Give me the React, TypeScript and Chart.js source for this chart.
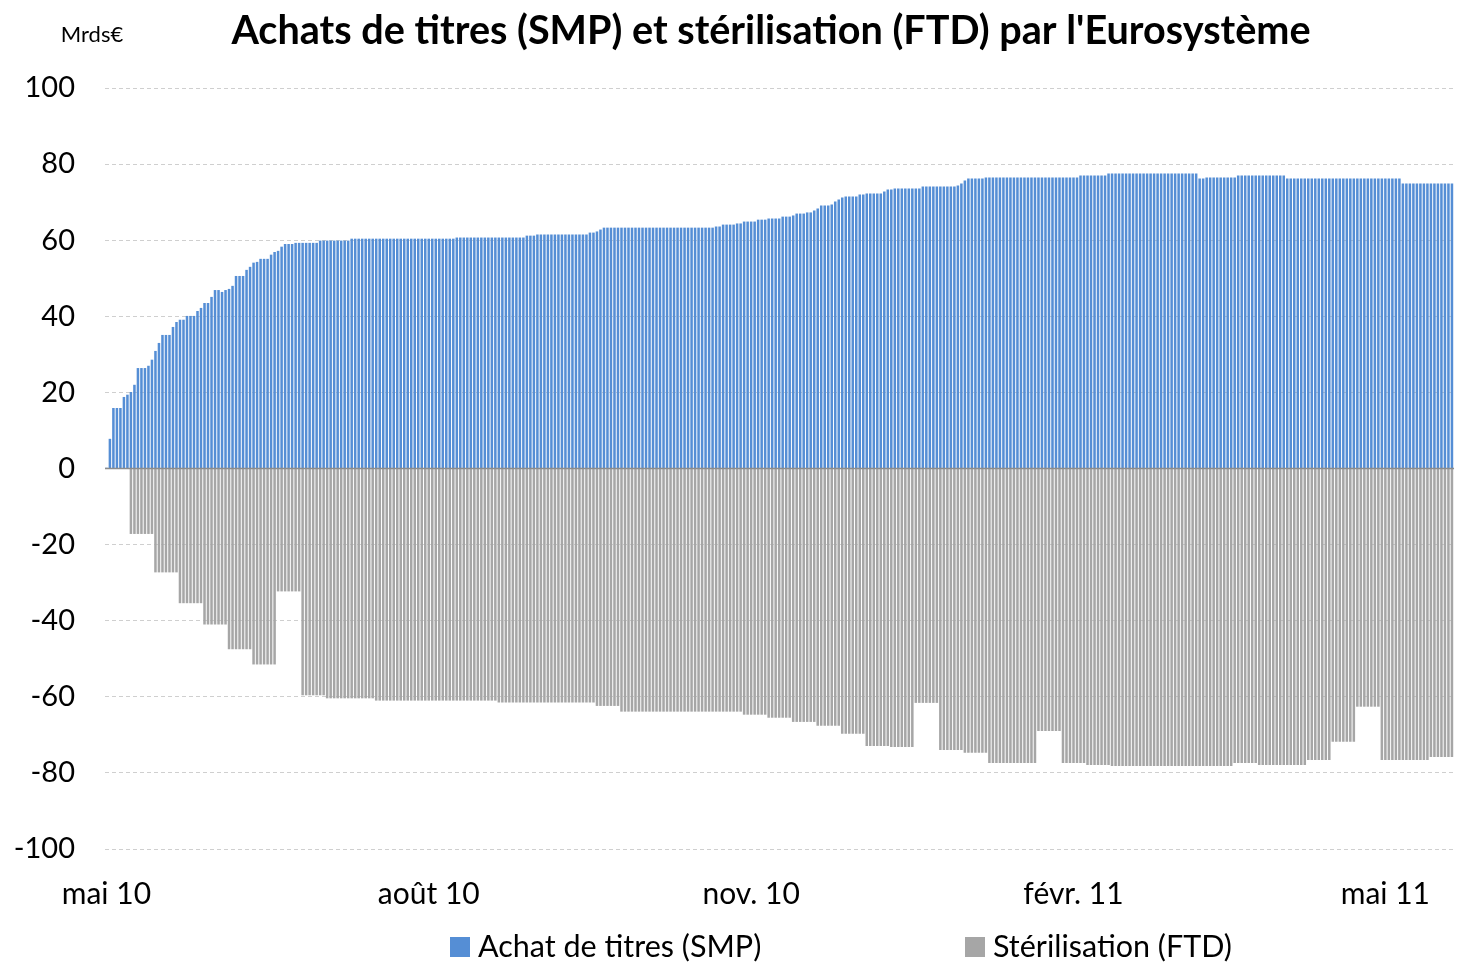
import React, { useEffect, useRef } from "react";
import { Chart, registerables } from "chart.js";

Chart.register(...registerables);

const TITLE = "Achats de titres (SMP) et stérilisation (FTD) par l'Eurosystème";
const UNIT = "Mrds€";
const SERIES_NAMES = ["Achat de titres (SMP)", "Stérilisation (FTD)"];
const SERIES_COLORS = ["#558ED5", "#A6A6A6"];

// x positions: day offsets from 10 May 2010
const X_TICK_DAYS = [0, 92, 184, 276, 365];
const X_TICK_LABELS = ["mai 10", "août 10", "nov. 10", "févr. 11", "mai 11"];
const Y_MIN = -100;
const Y_MAX = 100;
const Y_STEP = 20;

// Daily SMP holdings (Mrds€), one row per week starting Monday 10 May 2010
const SMP = [
  0.2, 7.8, 15.9, 15.9, 15.9, 18.8, 19.4,
  20.1, 22.0, 26.4, 26.4, 26.4, 27.0, 28.6,
  30.9, 33.0, 35.1, 35.1, 35.1, 37.2, 38.5,
  39.1, 39.1, 40.1, 40.1, 40.1, 41.4, 42.2,
  43.5, 43.5, 45.1, 46.9, 46.9, 46.4, 46.9,
  47.2, 48.0, 50.6, 50.6, 50.6, 52.2, 53.0,
  54.1, 54.3, 55.1, 55.1, 55.1, 56.2, 56.9,
  57.2, 58.3, 59.0, 59.0, 59.0, 59.3, 59.3,
  59.3, 59.3, 59.3, 59.3, 59.3, 59.9, 59.9,
  59.9, 59.9, 59.9, 59.9, 59.9, 59.9, 59.9,
  60.4, 60.4, 60.4, 60.4, 60.4, 60.4, 60.4,
  60.4, 60.4, 60.4, 60.4, 60.4, 60.4, 60.4,
  60.4, 60.4, 60.4, 60.4, 60.4, 60.4, 60.4,
  60.4, 60.4, 60.4, 60.4, 60.4, 60.4, 60.4,
  60.4, 60.4, 60.7, 60.7, 60.7, 60.7, 60.7,
  60.7, 60.7, 60.7, 60.7, 60.7, 60.7, 60.7,
  60.7, 60.7, 60.7, 60.7, 60.7, 60.7, 60.7,
  60.7, 61.2, 61.2, 61.2, 61.5, 61.5, 61.5,
  61.5, 61.5, 61.5, 61.5, 61.5, 61.5, 61.5,
  61.5, 61.5, 61.5, 61.5, 61.5, 62.0, 62.0,
  62.3, 62.8, 63.3, 63.3, 63.3, 63.3, 63.3,
  63.3, 63.3, 63.3, 63.3, 63.3, 63.3, 63.3,
  63.3, 63.3, 63.3, 63.3, 63.3, 63.3, 63.3,
  63.3, 63.3, 63.3, 63.3, 63.3, 63.3, 63.3,
  63.3, 63.3, 63.3, 63.3, 63.3, 63.3, 63.6,
  63.6, 64.1, 64.1, 64.1, 64.1, 64.4, 64.4,
  64.9, 64.9, 64.9, 64.9, 65.4, 65.4, 65.4,
  65.7, 65.7, 65.7, 65.7, 66.2, 66.2, 66.2,
  66.5, 67.0, 67.0, 67.0, 67.3, 67.3, 67.8,
  68.3, 69.1, 69.1, 69.1, 69.4, 70.2, 70.7,
  71.2, 71.5, 71.5, 71.5, 71.5, 72.0, 72.0,
  72.3, 72.3, 72.3, 72.3, 72.3, 72.8, 73.3,
  73.3, 73.6, 73.6, 73.6, 73.6, 73.6, 73.6,
  73.6, 73.6, 74.1, 74.1, 74.1, 74.1, 74.1,
  74.1, 74.1, 74.1, 74.1, 74.1, 74.4, 74.9,
  75.7, 76.2, 76.2, 76.2, 76.2, 76.2, 76.5,
  76.5, 76.5, 76.5, 76.5, 76.5, 76.5, 76.5,
  76.5, 76.5, 76.5, 76.5, 76.5, 76.5, 76.5,
  76.5, 76.5, 76.5, 76.5, 76.5, 76.5, 76.5,
  76.5, 76.5, 76.5, 76.5, 76.5, 77.0, 77.0,
  77.0, 77.0, 77.0, 77.0, 77.0, 77.0, 77.5,
  77.5, 77.5, 77.5, 77.5, 77.5, 77.5, 77.5,
  77.5, 77.5, 77.5, 77.5, 77.5, 77.5, 77.5,
  77.5, 77.5, 77.5, 77.5, 77.5, 77.5, 77.5,
  77.5, 77.5, 77.5, 77.5, 76.2, 76.2, 76.5,
  76.5, 76.5, 76.5, 76.5, 76.5, 76.5, 76.5,
  76.5, 77.0, 77.0, 77.0, 77.0, 77.0, 77.0,
  77.0, 77.0, 77.0, 77.0, 77.0, 77.0, 77.0,
  77.0, 76.2, 76.2, 76.2, 76.2, 76.2, 76.2,
  76.2, 76.2, 76.2, 76.2, 76.2, 76.2, 76.2,
  76.2, 76.2, 76.2, 76.2, 76.2, 76.2, 76.2,
  76.2, 76.2, 76.2, 76.2, 76.2, 76.2, 76.2,
  76.2, 76.2, 76.2, 76.2, 76.2, 76.2, 74.9,
  74.9, 74.9, 74.9, 74.9, 74.9, 74.9, 74.9,
  74.9, 74.9, 74.9, 74.9, 74.9, 74.9, 74.9,
];

// Daily FTD sterilisation (Mrds€), same day grid
const FTD = [
  null, null, null, null, null, null, null,
  -17.2, -17.2, -17.2, -17.2, -17.2, -17.2, -17.2,
  -27.3, -27.3, -27.3, -27.3, -27.3, -27.3, -27.3,
  -35.4, -35.4, -35.4, -35.4, -35.4, -35.4, -35.4,
  -41.0, -41.0, -41.0, -41.0, -41.0, -41.0, -41.0,
  -47.5, -47.5, -47.5, -47.5, -47.5, -47.5, -47.5,
  -51.5, -51.5, -51.5, -51.5, -51.5, -51.5, -51.5,
  -32.3, -32.3, -32.3, -32.3, -32.3, -32.3, -32.3,
  -59.6, -59.6, -59.6, -59.6, -59.6, -59.6, -59.6,
  -60.4, -60.4, -60.4, -60.4, -60.4, -60.4, -60.4,
  -60.4, -60.4, -60.4, -60.4, -60.4, -60.4, -60.4,
  -61.0, -61.0, -61.0, -61.0, -61.0, -61.0, -61.0,
  -61.0, -61.0, -61.0, -61.0, -61.0, -61.0, -61.0,
  -61.0, -61.0, -61.0, -61.0, -61.0, -61.0, -61.0,
  -61.0, -61.0, -61.0, -61.0, -61.0, -61.0, -61.0,
  -61.0, -61.0, -61.0, -61.0, -61.0, -61.0, -61.0,
  -61.5, -61.5, -61.5, -61.5, -61.5, -61.5, -61.5,
  -61.5, -61.5, -61.5, -61.5, -61.5, -61.5, -61.5,
  -61.5, -61.5, -61.5, -61.5, -61.5, -61.5, -61.5,
  -61.5, -61.5, -61.5, -61.5, -61.5, -61.5, -61.5,
  -62.4, -62.4, -62.4, -62.4, -62.4, -62.4, -62.4,
  -63.9, -63.9, -63.9, -63.9, -63.9, -63.9, -63.9,
  -63.9, -63.9, -63.9, -63.9, -63.9, -63.9, -63.9,
  -63.9, -63.9, -63.9, -63.9, -63.9, -63.9, -63.9,
  -63.9, -63.9, -63.9, -63.9, -63.9, -63.9, -63.9,
  -63.9, -63.9, -63.9, -63.9, -63.9, -63.9, -63.9,
  -64.7, -64.7, -64.7, -64.7, -64.7, -64.7, -64.7,
  -65.5, -65.5, -65.5, -65.5, -65.5, -65.5, -65.5,
  -66.6, -66.6, -66.6, -66.6, -66.6, -66.6, -66.6,
  -67.6, -67.6, -67.6, -67.6, -67.6, -67.6, -67.6,
  -69.7, -69.7, -69.7, -69.7, -69.7, -69.7, -69.7,
  -72.9, -72.9, -72.9, -72.9, -72.9, -72.9, -72.9,
  -73.2, -73.2, -73.2, -73.2, -73.2, -73.2, -73.2,
  -61.6, -61.6, -61.6, -61.6, -61.6, -61.6, -61.6,
  -74.0, -74.0, -74.0, -74.0, -74.0, -74.0, -74.0,
  -74.7, -74.7, -74.7, -74.7, -74.7, -74.7, -74.7,
  -77.4, -77.4, -77.4, -77.4, -77.4, -77.4, -77.4,
  -77.4, -77.4, -77.4, -77.4, -77.4, -77.4, -77.4,
  -69.0, -69.0, -69.0, -69.0, -69.0, -69.0, -69.0,
  -77.4, -77.4, -77.4, -77.4, -77.4, -77.4, -77.4,
  -77.9, -77.9, -77.9, -77.9, -77.9, -77.9, -77.9,
  -78.2, -78.2, -78.2, -78.2, -78.2, -78.2, -78.2,
  -78.2, -78.2, -78.2, -78.2, -78.2, -78.2, -78.2,
  -78.2, -78.2, -78.2, -78.2, -78.2, -78.2, -78.2,
  -78.2, -78.2, -78.2, -78.2, -78.2, -78.2, -78.2,
  -78.2, -78.2, -78.2, -78.2, -78.2, -78.2, -78.2,
  -77.4, -77.4, -77.4, -77.4, -77.4, -77.4, -77.4,
  -77.9, -77.9, -77.9, -77.9, -77.9, -77.9, -77.9,
  -77.9, -77.9, -77.9, -77.9, -77.9, -77.9, -77.9,
  -76.6, -76.6, -76.6, -76.6, -76.6, -76.6, -76.6,
  -71.8, -71.8, -71.8, -71.8, -71.8, -71.8, -71.8,
  -62.6, -62.6, -62.6, -62.6, -62.6, -62.6, -62.6,
  -76.6, -76.6, -76.6, -76.6, -76.6, -76.6, -76.6,
  -76.6, -76.6, -76.6, -76.6, -76.6, -76.6, -76.6,
  -75.8, -75.8, -75.8, -75.8, -75.8, -75.8, -75.8,
];

const FONT = "Lato, 'Open Sans', sans-serif";

const overlayPlugin = {
  id: "overlay",
  afterDatasetsDraw(chart: any) {
    const { ctx, chartArea, scales } = chart;
    const y0 = scales.y.getPixelForValue(0);
    ctx.save();
    ctx.strokeStyle = "#8C8C8C";
    ctx.lineWidth = 1.5;
    ctx.beginPath();
    ctx.moveTo(chartArea.left, y0);
    ctx.lineTo(chartArea.right, y0);
    ctx.stroke();
    ctx.restore();
  },
  afterDraw(chart: any) {
    const { ctx } = chart;
    ctx.save();
    ctx.fillStyle = "#000";
    ctx.textBaseline = "middle";
    ctx.textAlign = "center";
    ctx.font = `bold 39.6px ${FONT}`;
    ctx.fillText(TITLE, 771, 31);
    ctx.font = `22px ${FONT}`;
    ctx.fillText(UNIT, 92, 35);
    // legend
    ctx.font = `30.5px ${FONT}`;
    ctx.textAlign = "left";
    const items = [
      { x: 450, label: SERIES_NAMES[0], color: SERIES_COLORS[0] },
      { x: 965, label: SERIES_NAMES[1], color: SERIES_COLORS[1] },
    ];
    for (const it of items) {
      ctx.fillStyle = it.color;
      ctx.fillRect(it.x, 937, 20, 20);
      ctx.fillStyle = "#000";
      ctx.fillText(it.label, it.x + 28, 947);
    }
    ctx.restore();
  },
};

export default function App() {
  const canvasRef = useRef<HTMLCanvasElement | null>(null);

  useEffect(() => {
    if (!canvasRef.current) return;
    const chart = new Chart(canvasRef.current, {
      type: "bar",
      data: {
        datasets: [
          {
            label: SERIES_NAMES[0],
            data: SMP.map((v, i) => ({ x: i, y: v })),
            backgroundColor: SERIES_COLORS[0],
            barPercentage: 0.72,
            categoryPercentage: 1,
            grouped: false,
          } as any,
          {
            label: SERIES_NAMES[1],
            data: FTD.map((v, i) => ({ x: i, y: v })),
            backgroundColor: SERIES_COLORS[1],
            barPercentage: 0.72,
            categoryPercentage: 1,
            grouped: false,
          } as any,
        ],
      },
      options: {
        animation: false,
        responsive: true,
        maintainAspectRatio: false,
        layout: { padding: { top: 88, left: 0, right: 0, bottom: 0 } },
        plugins: {
          legend: { display: false },
          title: { display: false },
          tooltip: { enabled: false },
        },
        scales: {
          x: {
            type: "linear",
            min: -0.4,
            max: 384.6,
            offset: false,
            grid: { display: false, drawTicks: false, offset: false },
            border: { display: false },
            afterBuildTicks: (scale: any) => {
              scale.ticks = X_TICK_DAYS.map((v) => ({ value: v }));
            },
            afterFit: (scale: any) => {
              scale.height = 114;
            },
            ticks: {
              autoSkip: false,
              maxRotation: 0,
              padding: 27,
              color: "#000",
              font: { family: FONT, size: 30 },
              callback: (_v: any, index: number) => X_TICK_LABELS[index],
            },
          },
          y: {
            min: Y_MIN,
            max: Y_MAX,
            afterFit: (scale: any) => {
              scale.width = 105;
            },
            grid: {
              drawTicks: false,
              color: (ctx: any) =>
                ctx.tick && ctx.tick.value === 0 ? "rgba(0,0,0,0)" : "#CFCFCF",
              lineWidth: 1,
            },
            border: { display: false, dash: [4, 3] },
            ticks: {
              stepSize: Y_STEP,
              padding: 30,
              color: "#000",
              font: { family: FONT, size: 29 },
            },
          },
        },
      },
      plugins: [overlayPlugin],
    });
    return () => chart.destroy();
  }, []);

  return (
    <div style={{ position: "fixed", left: 0, top: 0, width: 1457, height: 963, background: "#fff" }}>
      <canvas ref={canvasRef} />
    </div>
  );
}
